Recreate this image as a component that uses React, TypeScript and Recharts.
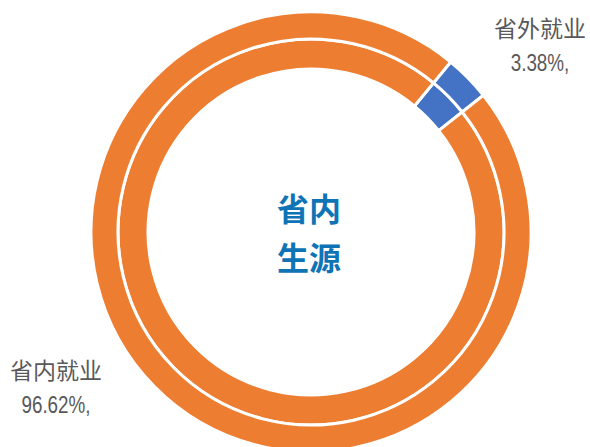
import React from 'react';
import { Label, Pie, PieChart, Cell } from 'recharts';

// 就业去向（省内生源）
const categories = ['省外就业', '省内就业'];
const shares = [3.38, 96.62];
const centerLines = ['省内', '生源'];

const colors = ['#4472C4', '#ED7D31'];

const data = categories.map((name, i) => ({ name, value: shares[i] }));

// label anchor for each slice, relative to the pie centre
const labelOffsets = [
  { dx: 229, dy: -195 },
  { dx: -255, dy: 147 },
];

const CX = 311;
const CY = 232;

function renderSliceLabel(props: any) {
  const { cx, cy, index, name, value } = props;
  const off = labelOffsets[index];
  const x = cx + off.dx;
  const y = cy + off.dy;
  return (
    <g key={'lbl-' + index}>
      <text
        x={x}
        y={y}
        textAnchor='middle'
        fill='#595959'
        fontSize={23}
        fontFamily="'Noto Sans CJK SC', sans-serif"
      >
        {name}
      </text>
      {/* narrow digits, like Arial Narrow */}
      <text
        transform={`translate(${x},${y + 34}) scale(0.82,1)`}
        x={0}
        y={0}
        textAnchor='middle'
        fill='#595959'
        fontSize={23}
        fontFamily="'Liberation Sans', Arial, sans-serif"
      >
        {value.toFixed(2)}%,
      </text>
    </g>
  );
}

function CenterText(props: any) {
  const vb = props.viewBox || {};
  const cx = vb.cx ?? CX;
  const cy = vb.cy ?? CY;
  return (
    <text
      x={cx - 2}
      y={cy - 11}
      textAnchor='middle'
      fill='#0F74B6'
      fontSize={32}
      fontWeight='bold'
      fontFamily="'Noto Sans CJK SC', sans-serif"
    >
      {centerLines.map((line, i) => (
        <tspan key={line} x={cx - 2} dy={i === 0 ? 0 : 49}>{line}</tspan>
      ))}
    </text>
  );
}

export default function App() {
  return (
    <div style={{ position: 'absolute', left: 0, top: 0, width: 590, height: 447, background: '#fff' }}>
      <PieChart width={590} height={447} margin={{ top: 0, right: 0, bottom: 0, left: 0 }}>
        <Pie
          data={data}
          dataKey='value'
          nameKey='name'
          cx={CX}
          cy={CY}
          innerRadius={163}
          outerRadius={193}
          startAngle={50.6}
          endAngle={-309.4}
          stroke='#fff'
          strokeWidth={3}
          isAnimationActive={false}
          labelLine={false}
        >
          {data.map((d, i) => (
            <Cell key={d.name} fill={colors[i]} />
          ))}
          <Label position='center' content={<CenterText />} />
        </Pie>
        <Pie
          data={data}
          dataKey='value'
          nameKey='name'
          cx={CX}
          cy={CY}
          innerRadius={193}
          outerRadius={220}
          startAngle={50.6}
          endAngle={-309.4}
          stroke='#fff'
          strokeWidth={3}
          isAnimationActive={false}
          labelLine={false}
          label={renderSliceLabel}
        >
          {data.map((d, i) => (
            <Cell key={d.name} fill={colors[i]} />
          ))}
        </Pie>
      </PieChart>
    </div>
  );
}
